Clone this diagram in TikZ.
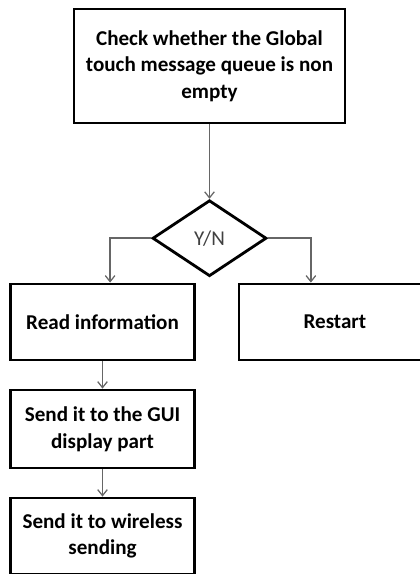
\documentclass[tikz,border=0pt]{standalone}
\usepackage{fontspec}
\setmainfont{Carlito}
\usetikzlibrary{shapes,arrows.meta,positioning,calc}

\begin{document}
\begin{tikzpicture}[
	box/.style={rectangle, draw, line width=2pt, align=center, minimum width=4.6cm, minimum height=1.9cm, font=\fontsize{15}{19}\selectfont\bfseries, inner sep=2pt},
	decision/.style={diamond, draw, line width=2pt, aspect=1.5, minimum width=2.85cm, minimum height=1.9cm, inner sep=0pt, font=\fontsize{15}{18}\selectfont, text=black!75},
	link/.style={draw=black!60, line width=1.2pt, -{Straight Barb[length=1.5mm, width=2.4mm, line width=0.9pt]}}
	]
	\useasboundingbox (0,0) rectangle (10.475,-14.35);
	\node[box, minimum width=6.775cm, minimum height=2.85cm] (check) at (5.2375,-1.65) {Check whether the Global\\touch message queue is non\\empty};
	\node[decision, below=1.86cm of check] (yn) {Y/N};
	\node[box] (read) at (2.5625,-8.05) {Read information};
	\node[box, right=1.04cm of read, minimum width=4.8cm] (restart) {Restart};
	\node[box, below=0.68cm of read, minimum height=1.95cm] (gui) {Send it to the GUI\\display part};
	\node[box, below=0.68cm of gui, minimum height=1.9cm] (wireless) {Send it to wireless\\sending};
	
	\draw[link] (check) -- (yn);
	\draw[link] (yn.west) -| ([xshift=0.19cm]read.north);
	\draw[link] (yn.east) -| ([xshift=-0.6cm]restart.north);
	\draw[link] (read) -- (gui);
	\draw[link] (gui) -- (wireless);
\end{tikzpicture}
\end{document}
